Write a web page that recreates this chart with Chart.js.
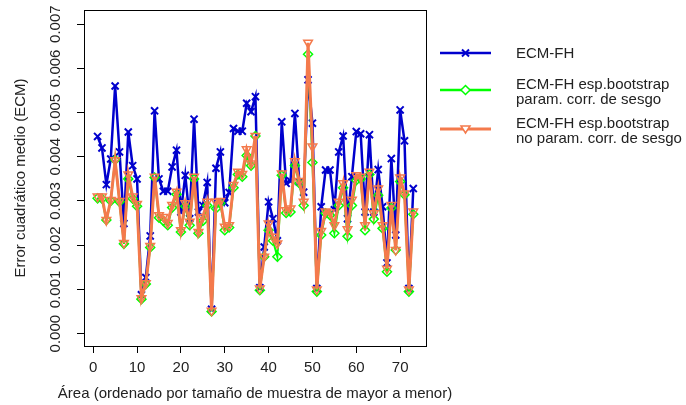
<!DOCTYPE html>
<html>
<head>
<meta charset="utf-8">
<script src="https://cdn.jsdelivr.net/npm/chart.js@4.4.1/dist/chart.umd.min.js"></script>
<style>
  html, body { margin: 0; padding: 0; background: #fff; }
  #wrap { position: relative; width: 686px; height: 405px; }
  .leg-item { position: absolute; font-family: "Liberation Sans", Arial, sans-serif; font-size: 15px; line-height: 15px; color: #222; white-space: nowrap; }
  .leg-mark { position: absolute; left: 440px; }
</style>
</head>
<body>
<div id="wrap">
  <canvas id="ecmChart" width="686" height="405"></canvas>
</div>
<script>
// ECM per area, three estimators
const areas = Array.from({ length: 73 }, (_, i) => i + 1);

const ecmFH = [
  0.00446, 0.00420, 0.00337, 0.00395, 0.00560, 0.00411, 0.00249, 0.00456, 0.00380, 0.00350,
  0.00088, 0.00127, 0.00221, 0.00504, 0.00350, 0.00322, 0.00322, 0.00377, 0.00415, 0.00275,
  0.00358, 0.00260, 0.00485, 0.00275, 0.00290, 0.00342, 0.00055, 0.00374, 0.00411, 0.00296,
  0.00319, 0.00464, 0.00458, 0.00458, 0.00521, 0.00502, 0.00536, 0.00104, 0.00196, 0.00298,
  0.00260, 0.00210, 0.00479, 0.00340, 0.00345, 0.00498, 0.00343, 0.00320, 0.00574, 0.00476,
  0.00102, 0.00287, 0.00370, 0.00370, 0.00280, 0.00411, 0.00447, 0.00260, 0.00355, 0.00457,
  0.00452, 0.00275, 0.00450, 0.00275, 0.00371, 0.00287, 0.00160, 0.00396, 0.00223, 0.00506,
  0.00436, 0.00102, 0.00328
];

const ecmParam = [
  0.00306, 0.00305, 0.00257, 0.00300, 0.00393, 0.00298, 0.00203, 0.00350, 0.00305, 0.00288,
  0.00078, 0.00112, 0.00195, 0.00353, 0.00262, 0.00255, 0.00245, 0.00285, 0.00315, 0.00230,
  0.00288, 0.00245, 0.00350, 0.00227, 0.00255, 0.00290, 0.00050, 0.00283, 0.00295, 0.00234,
  0.00240, 0.00330, 0.00360, 0.00355, 0.00403, 0.00380, 0.00447, 0.00098, 0.00174, 0.00234,
  0.00210, 0.00174, 0.00358, 0.00273, 0.00275, 0.00380, 0.00340, 0.00290, 0.00632, 0.00387,
  0.00095, 0.00223, 0.00272, 0.00268, 0.00227, 0.00290, 0.00330, 0.00220, 0.00290, 0.00347,
  0.00350, 0.00234, 0.00360, 0.00259, 0.00313, 0.00238, 0.00140, 0.00284, 0.00189, 0.00344,
  0.00314, 0.00095, 0.00270
];

const ecmNoParam = [
  0.00310, 0.00310, 0.00257, 0.00302, 0.00392, 0.00300, 0.00205, 0.00360, 0.00310, 0.00293,
  0.00080, 0.00114, 0.00198, 0.00355, 0.00268, 0.00264, 0.00250, 0.00291, 0.00321, 0.00234,
  0.00295, 0.00253, 0.00355, 0.00230, 0.00264, 0.00298, 0.00052, 0.00298, 0.00300, 0.00242,
  0.00245, 0.00336, 0.00366, 0.00361, 0.00417, 0.00385, 0.00447, 0.00102, 0.00174, 0.00249,
  0.00219, 0.00204, 0.00362, 0.00279, 0.00283, 0.00390, 0.00345, 0.00298, 0.00658, 0.00423,
  0.00100, 0.00232, 0.00276, 0.00274, 0.00245, 0.00298, 0.00340, 0.00236, 0.00303, 0.00358,
  0.00355, 0.00245, 0.00366, 0.00272, 0.00328, 0.00245, 0.00147, 0.00291, 0.00189, 0.00353,
  0.00317, 0.00100, 0.00276
];

const xTicks = [0, 10, 20, 30, 40, 50, 60, 70];
const yTicks = [0, 0.001, 0.002, 0.003, 0.004, 0.005, 0.006, 0.007];

const xTitle = 'Área (ordenado por tamaño de muestra de mayor a menor)';

const BLUE = '#0000cd';
const GREEN = '#00ff00';
const ORANGE = '#f47a4c';
const FONT = '"Liberation Sans", Arial, sans-serif';

function series(values) {
  return values.map((v, i) => ({ x: areas[i], y: v }));
}

// box around the plot region
const plotBox = {
  id: 'plotBox',
  afterDraw(chart) {
    const { ctx, chartArea: a } = chart;
    ctx.save();
    ctx.strokeStyle = '#000';
    ctx.lineWidth = 1;
    ctx.strokeRect(Math.round(a.left) + 0.5, Math.round(a.top) + 0.5,
      Math.round(a.right - a.left), Math.round(a.bottom - a.top));
    ctx.restore();
  }
};

// y tick labels parallel to the axis, and the x title at full width
const axisText = {
  id: 'axisText',
  afterDraw(chart) {
    const { ctx, chartArea: a } = chart;
    const y = chart.scales.y;
    ctx.save();
    ctx.font = '15px ' + FONT;
    ctx.fillStyle = '#222';
    ctx.textAlign = 'center';
    ctx.textBaseline = 'middle';
    yTicks.forEach(v => {
      ctx.save();
      ctx.translate(56, y.getPixelForValue(v));
      ctx.rotate(-Math.PI / 2);
      ctx.fillText(v.toFixed(3), 0, 0);
      ctx.restore();
    });
    ctx.fillText(xTitle, (a.left + a.right) / 2, 394);
    ctx.restore();
  }
};

const ctx = document.getElementById('ecmChart').getContext('2d');
new Chart(ctx, {
  type: 'line',
  data: {
    datasets: [
      {
        label: 'ECM-FH',
        data: series(ecmFH),
        borderColor: BLUE,
        borderWidth: 2.5,
        pointStyle: 'crossRot',
        pointRadius: 5,
        pointBorderWidth: 2,
        pointBorderColor: BLUE,
        order: 2
      },
      {
        label: 'ECM-FH esp.bootstrap param. corr. de sesgo',
        data: series(ecmParam),
        borderColor: GREEN,
        borderWidth: 2,
        pointStyle: 'rectRot',
        pointRadius: 4.5,
        pointBorderWidth: 1.5,
        pointBorderColor: GREEN,
        pointBackgroundColor: 'rgba(255,255,255,0)',
        order: 1
      },
      {
        label: 'ECM-FH esp.bootstrap no param. corr. de sesgo',
        data: series(ecmNoParam),
        borderColor: ORANGE,
        borderWidth: 3,
        pointStyle: 'triangle',
        pointRotation: 180,
        pointRadius: 5,
        pointBorderWidth: 1.5,
        pointBorderColor: ORANGE,
        pointBackgroundColor: 'rgba(255,255,255,0)',
        order: 0
      }
    ]
  },
  options: {
    responsive: false,
    animation: false,
    devicePixelRatio: 1,
    layout: { padding: { left: 0, right: 260, top: 10, bottom: 0 } },
    plugins: {
      legend: { display: false },
      tooltip: { enabled: false }
    },
    elements: { line: { tension: 0 } },
    scales: {
      x: {
        type: 'linear',
        min: -2.1,
        max: 75.9,
        afterBuildTicks: s => { s.ticks = xTicks.map(v => ({ value: v })); },
        afterFit: s => { s.height = 59; },
        grid: { drawOnChartArea: false, drawTicks: true, tickLength: 7, tickColor: '#000', color: '#000' },
        border: { display: true, color: '#000', width: 1 },
        ticks: { color: '#222', font: { size: 15, family: FONT }, padding: 6, maxRotation: 0, autoSkip: false }
      },
      y: {
        type: 'linear',
        min: -0.00028,
        max: 0.00732,
        afterBuildTicks: s => { s.ticks = yTicks.map(v => ({ value: v })); },
        afterFit: s => { s.width = 84; },
        grid: { drawOnChartArea: false, drawTicks: true, tickLength: 7, tickColor: '#000', color: '#000' },
        border: { display: true, color: '#000', width: 1 },
        ticks: { display: false },
        title: {
          display: true,
          text: 'Error cuadrático medio (ECM)',
          color: '#222',
          font: { size: 15, family: FONT },
          padding: { top: 12, bottom: 0 }
        }
      }
    }
  },
  plugins: [plotBox, axisText]
});
</script>
<div class="leg-mark" style="top:44px"><svg width="52" height="18"><line x1="0" y1="9" x2="51" y2="9" stroke="#0000cd" stroke-width="2.5"/><path d="M22 5.5 L29 12.5 M29 5.5 L22 12.5" stroke="#0000cd" stroke-width="2"/></svg></div>
<div class="leg-item" style="left:516px; top:45px">ECM-FH</div>
<div class="leg-mark" style="top:81px"><svg width="52" height="18"><line x1="0" y1="9" x2="51" y2="9" stroke="#00ff00" stroke-width="2.5"/><path d="M25.5 4.5 L30 9 L25.5 13.5 L21 9 Z" stroke="#00ff00" stroke-width="1.5" fill="#fff"/></svg></div>
<div class="leg-item" style="left:516px; top:76px">ECM-FH esp.bootstrap<br>param. corr. de sesgo</div>
<div class="leg-mark" style="top:120px"><svg width="52" height="18"><line x1="0" y1="9" x2="51" y2="9" stroke="#f47a4c" stroke-width="3"/><path d="M21 6 L30 6 L25.5 13 Z" stroke="#f47a4c" stroke-width="1.5" fill="#fff"/></svg></div>
<div class="leg-item" style="left:516px; top:115px">ECM-FH esp.bootstrap<br>no param. corr. de sesgo</div>
</body>
</html>
